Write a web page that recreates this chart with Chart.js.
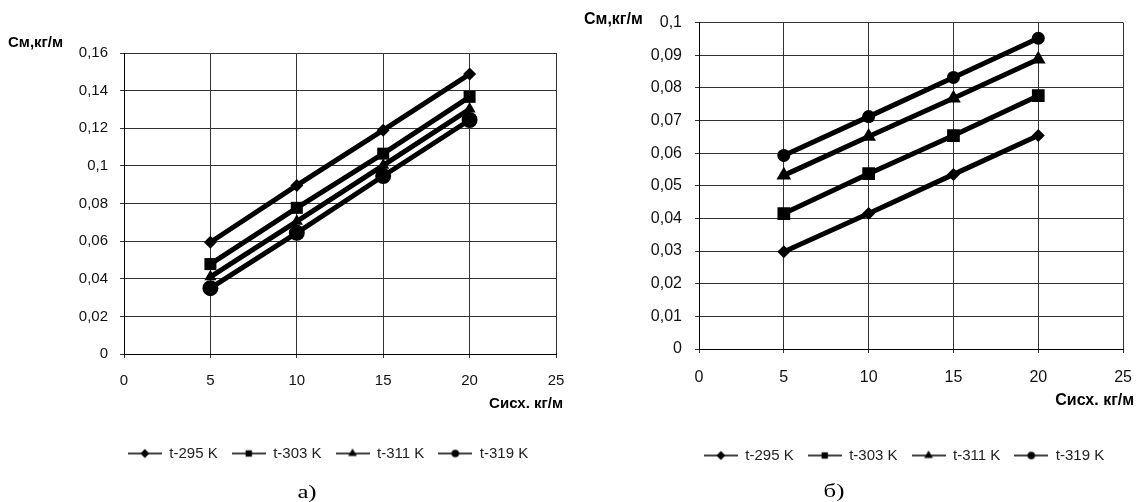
<!DOCTYPE html>
<html>
<head>
<meta charset="utf-8">
<script src="https://cdn.jsdelivr.net/npm/chart.js@4/dist/chart.umd.min.js"></script>
<style>
  body { margin: 0; background: #fff; }
  #wrap { position: relative; width: 1147px; height: 502px; overflow: hidden; }
  canvas { position: absolute; top: 0; }
  .cap {
    position: absolute;
    font-family: "Liberation Serif", "Times New Roman", serif;
    font-size: 19px;
    color: #000;
    transform: translate(-50%, -50%) scaleX(1.3);
    white-space: nowrap;
  }
</style>
</head>
<body>
<div id="wrap">
  <canvas id="chartA" width="580" height="502" style="left:0"></canvas>
  <canvas id="chartB" width="567" height="502" style="left:580px"></canvas>
  <div class="cap" style="left:307px;top:492px">а)</div>
  <div class="cap" style="left:834px;top:491px">б)</div>
</div>
<script>
// Сисх, кг/м
const cIsx = [5, 10, 15, 20];
const seriesNames = ["t-295 K", "t-303 K", "t-311 K", "t-319 K"];
const markers = ["rectRot", "rect", "triangle", "circle"];

// а) См, кг/м
const a295 = [0.0594, 0.0896, 0.119, 0.1488];
const a303 = [0.0478, 0.0777, 0.1065, 0.1367];
const a311 = [0.041, 0.0705, 0.1003, 0.1302];
const a319 = [0.035, 0.0644, 0.0946, 0.1244];

// б) См, кг/м
const b295 = [0.0298, 0.0415, 0.0535, 0.0654];
const b303 = [0.0415, 0.0537, 0.0654, 0.0776];
const b311 = [0.0532, 0.0651, 0.0768, 0.0888];
const b319 = [0.0593, 0.0712, 0.0832, 0.0952];

const FONT = '"Liberation Sans", Arial, sans-serif';
const iconRadii = [4.5, 4.5, 5, 3.8];

// small line + marker picture for the legend
function legendIcon(style, i) {
  const c = document.createElement("canvas");
  c.width = 34;
  c.height = 14;
  const g = c.getContext("2d");
  g.strokeStyle = "#000";
  g.lineWidth = 1.5;
  g.beginPath();
  g.moveTo(0, 7);
  g.lineTo(34, 7);
  g.stroke();
  g.fillStyle = "#000";
  Chart.helpers.drawPoint(g, { pointStyle: style, radius: iconRadii[i], borderWidth: 0, rotation: 0 }, 17, 7);
  return c;
}
const icons = markers.map(legendIcon);

const axisText = {
  id: "axisText",
  afterLayout(chart, args, o) {
    const lg = chart.legend;
    const dx = o.legendCenter - (lg.left + lg.right) / 2;
    lg.left += dx;
    lg.right += dx;
  },
  afterDraw(chart, args, o) {
    const { ctx, chartArea: a } = chart;
    ctx.save();
    ctx.fillStyle = "#000";
    ctx.font = "bold " + o.size + "px " + FONT;
    ctx.textBaseline = "middle";
    ctx.textAlign = "left";
    ctx.fillText(o.yText, a.left + o.yPos[0], a.top + o.yPos[1]);
    ctx.textAlign = "right";
    ctx.fillText(o.xText, a.right + o.xPos[0], a.bottom + o.xPos[1]);
    ctx.restore();
  }
};

function makeChart(id, series, cfg) {
  new Chart(document.getElementById(id), {
    type: "line",
    data: {
      datasets: series.map((vals, i) => ({
        label: seriesNames[i],
        data: cIsx.map((x, j) => ({ x: x, y: vals[j] })),
        borderColor: "#000",
        borderWidth: 5,
        pointStyle: markers[i],
        pointRadius: cfg.radii[i],
        pointBackgroundColor: "#000",
        pointBorderColor: "#000",
        pointBorderWidth: 0,
        tension: 0,
      })),
    },
    options: {
      responsive: false,
      animation: false,
      layout: { padding: cfg.padding },
      plugins: {
        tooltip: { enabled: false },
        legend: {
          position: "bottom",
          labels: {
            usePointStyle: true,
            pointStyleWidth: 34,
            padding: 14,
            color: "#222",
            font: { family: FONT, size: 15 },
            generateLabels(chart) {
              const items = Chart.defaults.plugins.legend.labels.generateLabels(chart);
              items.forEach((it, i) => { it.pointStyle = icons[i]; });
              return items;
            },
          },
        },
        axisText: cfg.text,
      },
      scales: {
        x: {
          type: "linear",
          min: 0,
          max: 25,
          ticks: { stepSize: 5, padding: cfg.xPad, color: "#111", font: { family: FONT, size: cfg.tickSize } },
          grid: { color: "#333", tickLength: 4 },
          border: { color: "#000" },
          afterFit(s) { s.height = cfg.xHeight; },
        },
        y: {
          min: 0,
          max: cfg.yMax,
          ticks: {
            stepSize: cfg.yStep,
            padding: cfg.yPad,
            color: "#111",
            font: { family: FONT, size: cfg.tickSize },
            callback: (v) => String(Math.round(v * 100) / 100).replace(".", ","),
          },
          grid: { color: "#333", tickLength: 4 },
          border: { color: "#000" },
          afterFit(s) { s.width = cfg.yWidth; },
        },
      },
    },
    plugins: [axisText],
  });
}

makeChart("chartA", [a295, a303, a311, a319], {
  yMax: 0.16, yStep: 0.02,
  padding: { top: 53, right: 24, bottom: 31, left: 0 },
  yWidth: 124, xHeight: 78, xPad: 14, yPad: 12, tickSize: 15,
  radii: [6.5, 8.5, 7, 8],
  text: { yText: "См,кг/м", xText: "Сисх. кг/м", size: 15, yPos: [-116, -10], xPos: [7, 50], legendCenter: 328 },
});

makeChart("chartB", [b295, b303, b311, b319], {
  yMax: 0.1, yStep: 0.01,
  padding: { top: 22, right: 13, bottom: 29, left: 0 },
  yWidth: 119, xHeight: 85, xPad: 15, yPad: 13, tickSize: 16,
  radii: [6.5, 9, 8.5, 6.5],
  text: { yText: "См,кг/м", xText: "Сисх. кг/м", size: 16, yPos: [-115, -3], xPos: [11, 52], legendCenter: 324 },
});
</script>
</body>
</html>
